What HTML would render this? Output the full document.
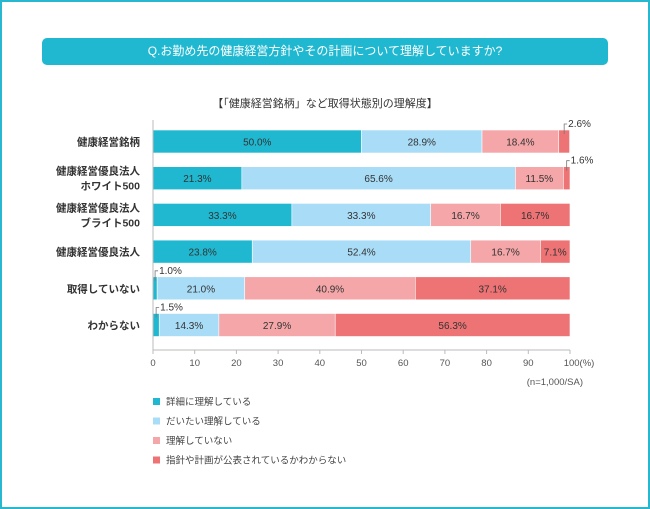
<!DOCTYPE html>
<html><head><meta charset="utf-8"><style>
body{margin:0;background:#fff}
#wrap{position:relative;width:646px;height:505px;border:2px solid #27b7cf;background:#fff;font-family:"Liberation Sans","Noto Sans CJK JP",sans-serif}
#title{position:absolute;left:40px;top:36px;width:566px;height:27px;background:#20b8d0;border-radius:5px;color:#fff;font-size:12px;text-align:center;line-height:27px}
#sub{position:absolute;left:0;width:646px;top:93px;text-align:center;font-size:11px;color:#333}
svg{position:absolute;left:-2px;top:-2px}
</style></head><body>
<div id="wrap">
<div id="title">Q.お勤め先の健康経営方針やその計画について理解していますか?</div>
<div id="sub">【「健康経営銘柄」など取得状態別の理解度】</div>
<svg id="chart" width="650" height="509"></svg>
</div>
<script>
const categories=[["健康経営銘柄"],["健康経営優良法人","ホワイト500"],["健康経営優良法人","ブライト500"],["健康経営優良法人"],["取得していない"],["わからない"]];
const seriesNames=["詳細に理解している","だいたい理解している","理解していない","指針や計画が公表されているかわからない"];
const s1=[50.0,21.3,33.3,23.8,1.0,1.5];
const s2=[28.9,65.6,33.3,52.4,21.0,14.3];
const s3=[18.4,11.5,16.7,16.7,40.9,27.9];
const s4=[2.6,1.6,16.7,7.1,37.1,56.3];
const ticks=[0,10,20,30,40,50,60,70,80,90,100];
const colors=["#20b8d0","#a9dcf6","#f4a6a8","#ed7374"];
const svg=document.getElementById('chart');const NS="http://www.w3.org/2000/svg";
const X0=153,X1=570;const x=v=>X0+(X1-X0)*v/100;
const rowY=i=>130+i*36.7;const BH=23;
function mk(t,a,p){const e=document.createElementNS(NS,t);for(const k in a)e.setAttribute(k,a[k]);(p||svg).appendChild(e);return e;}
const series=[s1,s2,s3,s4];
categories.forEach((c,i)=>{
  const y=rowY(i);
  const lab=mk('text',{x:140,'text-anchor':'end','font-size':10.5,fill:'#333','font-weight':'bold'});
  
  
  c.forEach((ln,j)=>{const t=mk('tspan',{x:140,y:y+BH/2+4+(j-(c.length-1)/2)*15},lab);t.textContent=ln;});
  let acc=0;
  series.forEach((s,k)=>{
    const v=s[i];const r=mk('rect',{x:x(acc),y:y,width:x(acc+v)-x(acc),height:BH,fill:colors[k],stroke:'#fff','stroke-width':0.6});
    
    
    const cx=(x(acc)+x(acc+v))/2;
    if(v>=5){const t=mk('text',{x:cx,y:y+BH/2+4,'text-anchor':'middle','font-size':10,fill:'#333'});t.textContent=v.toFixed(1)+'%';
      
      }
    else{mk('path',{d:`M${cx},${y+4}V${y-6}H${cx+3}`,stroke:'#777',fill:'none','stroke-width':0.8});
      const t=mk('text',{x:cx+4,y:y-3,'font-size':10,fill:'#333'});t.textContent=v.toFixed(1)+'%';
      
      }
    acc+=v;
  });
});
mk('line',{x1:X0,y1:120,x2:X0,y2:350,stroke:'#bbb','stroke-width':1});
mk('line',{x1:X0,y1:350,x2:X1,y2:350,stroke:'#bbb','stroke-width':1});
ticks.forEach(t=>{mk('line',{x1:x(t),y1:350,x2:x(t),y2:354,stroke:'#bbb'});
  const tx=mk('text',{x:x(t),y:366,'text-anchor':'middle','font-size':9.5,fill:'#555'});tx.textContent=t===100?'100(%)':t;
  if(t===100)tx.setAttribute('x',x(t)+9);
  
  });
const n=mk('text',{x:583,y:385,'text-anchor':'end','font-size':9.5,fill:'#555'});n.textContent='(n=1,000/SA)';


seriesNames.forEach((s,k)=>{const y=398+k*19.5;
  const r=mk('rect',{x:153,y:y,width:7,height:7,fill:colors[k]});
  
  
  const t=mk('text',{x:166,y:y+7,'font-size':9.5,fill:'#444'});t.textContent=s;
  
  });
</script>
</body></html>
